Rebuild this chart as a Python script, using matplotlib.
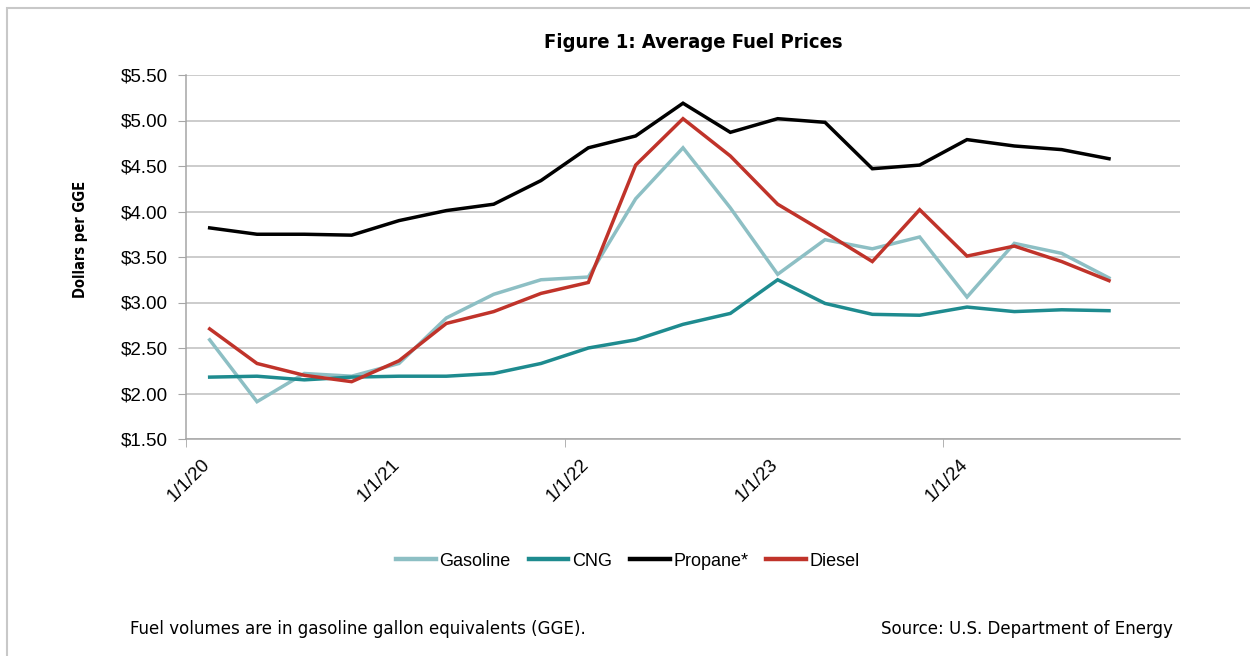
import matplotlib
matplotlib.use("Agg")
import matplotlib.pyplot as plt
from matplotlib import font_manager
from matplotlib.lines import Line2D
from matplotlib.patches import Rectangle
from matplotlib.transforms import ScaledTranslation

# ---- data ----
dates = ["1/1/20", "4/1/20", "7/1/20", "10/1/20",
         "1/1/21", "4/1/21", "7/1/21", "10/1/21",
         "1/1/22", "4/1/22", "7/1/22", "10/1/22",
         "1/1/23", "4/1/23", "7/1/23", "10/1/23",
         "1/1/24", "4/1/24", "7/1/24", "10/1/24"]
gasoline = [2.59, 1.91, 2.22, 2.19, 2.33, 2.83, 3.09, 3.25, 3.28, 4.14,
            4.70, 4.04, 3.31, 3.69, 3.59, 3.72, 3.06, 3.65, 3.54, 3.27]
cng = [2.18, 2.19, 2.15, 2.18, 2.19, 2.19, 2.22, 2.33, 2.50, 2.59,
       2.76, 2.88, 3.25, 2.99, 2.87, 2.86, 2.95, 2.90, 2.92, 2.91]
propane = [3.82, 3.75, 3.75, 3.74, 3.90, 4.01, 4.08, 4.34, 4.70, 4.83,
           5.19, 4.87, 5.02, 4.98, 4.47, 4.51, 4.79, 4.72, 4.68, 4.58]
diesel = [2.71, 2.33, 2.20, 2.13, 2.36, 2.77, 2.90, 3.10, 3.22, 4.51,
          5.02, 4.61, 4.08, 3.77, 3.45, 4.02, 3.51, 3.62, 3.45, 3.24]
series_names = ["Gasoline", "CNG", "Propane*", "Diesel"]
y_ticks = [1.5, 2.0, 2.5, 3.0, 3.5, 4.0, 4.5, 5.0, 5.5]
label_idx = [0, 4, 8, 12, 16]

colors = ["#8DBFC4", "#1E8B8F", "#000000", "#C0332A"]

installed = {f.name for f in font_manager.fontManager.ttflist}
def pick(*names):
    for n in names:
        if n in installed:
            return n
    return "DejaVu Sans"

REG = pick("Liberation Sans", "Arial", "DejaVu Sans")
NARROW = "DejaVu Sans"

W, H = 1250, 656
fig = plt.figure(figsize=(W / 100, H / 100), dpi=100)
fig.patch.set_facecolor("white")

# outer border (only left and top visible in reference)
fig.add_artist(Rectangle((7 / W, -0.05), 1.2, 1 - 8 / H + 0.05,
                         transform=fig.transFigure, fill=False,
                         edgecolor="#C8C8C8", linewidth=1.5))

ax = fig.add_axes([186 / W, 1 - 439 / H, (1180 - 186) / W, (439 - 75) / H])
x = list(range(len(dates)))
for vals, c, name in zip([gasoline, cng, propane, diesel], colors, series_names):
    ax.plot(x, vals, color=c, linewidth=2.5, label=name,
            solid_joinstyle="miter", zorder=3)

ax.set_xlim(-0.5, 20.5)
ax.set_ylim(1.5, 5.5)
ax.set_yticks(y_ticks)
ax.set_yticklabels([f"${v:.2f}" for v in y_ticks], fontsize=13.5, family=REG)
ax.yaxis.grid(True, color="#BFBFBF", linewidth=1.1)
ax.set_axisbelow(True)
for s in ["top", "right"]:
    ax.spines[s].set_visible(False)
ax.spines["left"].set_color("#A6A6A6")
ax.spines["bottom"].set_color("#A6A6A6")
ax.spines["left"].set_linewidth(1.1)
ax.spines["bottom"].set_linewidth(1.1)
ax.tick_params(axis="y", length=6, color="#A6A6A6", pad=7)

ax.set_xticks(label_idx)
ax.set_xticklabels([dates[i] for i in label_idx], rotation=45, ha="right",
                   va="top", rotation_mode="anchor", fontsize=13.5, family=REG)
ax.tick_params(axis="x", length=0, pad=12)
shift = ScaledTranslation(-8 / 100, 0, fig.dpi_scale_trans)
for lab in ax.get_xticklabels():
    lab.set_transform(lab.get_transform() + shift)
ax.set_xticks([-0.5, 7.5, 15.5], minor=True)
ax.tick_params(axis="x", which="minor", length=6, color="#A6A6A6")

ax.set_ylabel("Dollars per GGE", fontsize=10.5, fontweight="bold",
              family=NARROW, fontstretch="condensed", labelpad=0)
ax.yaxis.set_label_coords(-0.0986, 0.547)

fig.text(693 / W, 1 - 42 / H, "Figure 1: Average Fuel Prices", ha="center",
         va="center", fontsize=14.5, fontweight="bold", family=NARROW,
         fontstretch="condensed")

handles = [Line2D([], [], color=c, linewidth=3.2) for c in colors]
fig.legend(handles, series_names, loc="center", bbox_to_anchor=(628 / W, 1 - 561 / H),
           ncol=4, frameon=False, prop={"family": REG, "size": 13},
           handlelength=2.2, handletextpad=0.2, columnspacing=1.0)

fig.text(130 / W, 1 - 629 / H, "Fuel volumes are in gasoline gallon equivalents (GGE).",
         ha="left", va="center", fontsize=13.3, family=NARROW, fontstretch="condensed")
fig.text(1173 / W, 1 - 629 / H, "Source: U.S. Department of Energy",
         ha="right", va="center", fontsize=13.3, family=NARROW, fontstretch="condensed")

fig.savefig("out.png", dpi=100, facecolor="white")
